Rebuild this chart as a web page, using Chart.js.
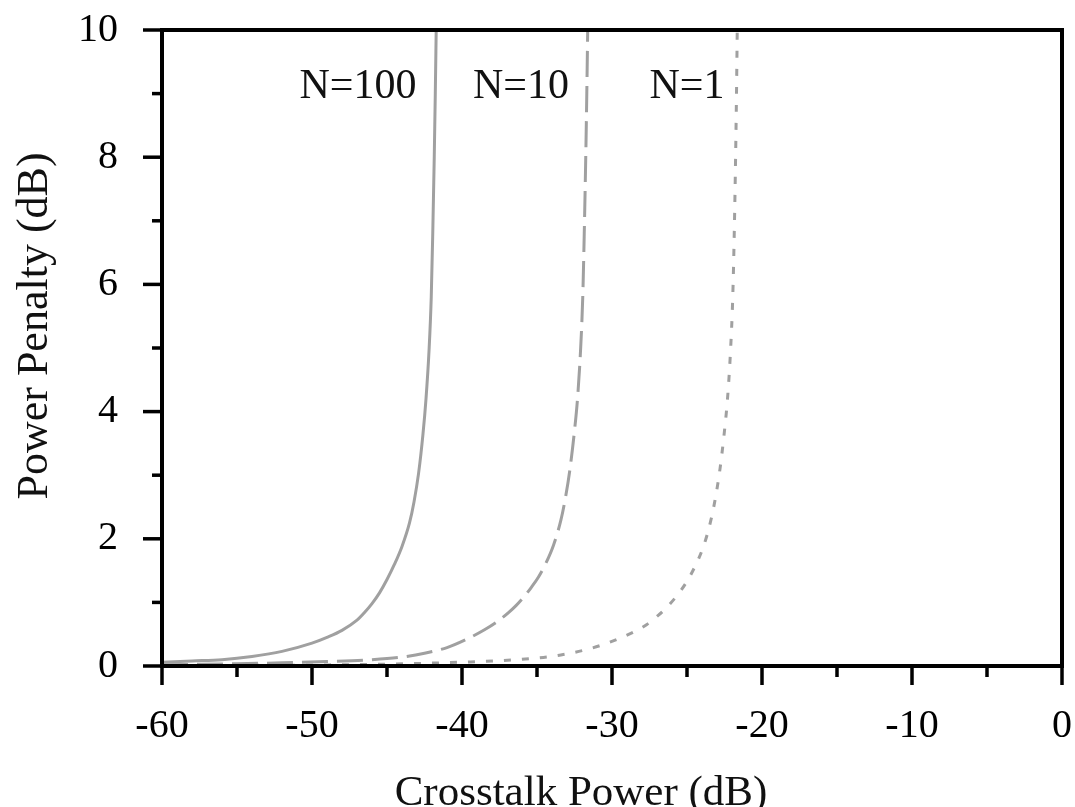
<!DOCTYPE html>
<html>
<head>
<meta charset="utf-8">
<script src="https://cdn.jsdelivr.net/npm/chart.js@4.4.1/dist/chart.umd.min.js"></script>
<style>
    html, body { margin: 0; padding: 0; background: #fff; }
    #wrap { width: 1075px; height: 807px; position: relative; }
</style>
</head>
<body>
<div id="wrap"><canvas id="penalty"></canvas></div>
<script>
const seriesNames = ['N=100', 'N=10', 'N=1'];

// crosstalk power (dB) -> power penalty (dB)
const n100X = [-60, -58, -56, -54, -52, -50, -49, -48, -47, -46.5, -46, -45.5, -45, -44.5, -44, -43.5, -43.2, -42.9, -42.6, -42.4, -42.2, -42.05, -41.95, -41.85, -41.78, -41.72];
const n100Y = [0.06, 0.08, 0.10, 0.15, 0.23, 0.36, 0.45, 0.56, 0.72, 0.84, 0.98, 1.15, 1.36, 1.60, 1.88, 2.25, 2.58, 3.02, 3.65, 4.2, 4.95, 5.8, 6.8, 8.0, 9.0, 10];

const n10X = [-60, -55, -52, -49, -46, -44, -42.5, -41, -39.7, -38.5, -37.7, -36.9, -36.4, -35.9, -35.4, -34.9, -34.4, -33.9, -33.4, -33.1, -32.8, -32.5, -32.3, -32.1, -31.95, -31.85, -31.75, -31.68, -31.62];
const n10Y = [0.02, 0.035, 0.05, 0.07, 0.10, 0.14, 0.2, 0.29, 0.42, 0.57, 0.69, 0.84, 0.95, 1.08, 1.23, 1.40, 1.62, 1.90, 2.30, 2.65, 3.1, 3.7, 4.2, 4.95, 5.8, 6.8, 8.0, 9.0, 10];

const n1X = [-60, -50, -45, -40, -36.4, -33.5, -30.8, -28.6, -27.7, -26.9, -26.4, -25.9, -25.4, -24.9, -24.4, -23.9, -23.4, -23.1, -22.8, -22.5, -22.3, -22.1, -21.95, -21.85, -21.76, -21.7, -21.65];
const n1Y = [0.005, 0.015, 0.03, 0.06, 0.10, 0.17, 0.32, 0.53, 0.65, 0.80, 0.91, 1.04, 1.19, 1.37, 1.60, 1.88, 2.30, 2.65, 3.1, 3.7, 4.2, 4.95, 5.8, 6.8, 8.0, 9.0, 10];

// where the curve names sit (data units)
const labelX = [-46.93, -36.07, -25.0];
const labelY = 8.93;

const serif = '"Liberation Serif", "Times New Roman", serif';
const lineGrey = '#a0a0a0';

const toPoints = (xs, ys) => xs.map((v, i) => ({ x: v, y: ys[i] }));

var frame = {
    id: 'frame',
    afterDatasetsDraw(chart) {
        const { ctx, chartArea: { left, right, top, bottom }, scales: { x, y } } = chart;

        ctx.save();
        ctx.strokeStyle = '#000';
        ctx.lineWidth = 4;
        ctx.strokeRect(left, top, right - left, bottom - top);

        // outward ticks, long on labelled values
        ctx.lineWidth = 3.5;
        x.ticks.forEach(t => {
            const px = x.getPixelForValue(t.value);
            const len = t.value % 10 === 0 ? 19 : 11;
            ctx.beginPath();
            ctx.moveTo(px, bottom);
            ctx.lineTo(px, bottom + len);
            ctx.stroke();
        });
        y.ticks.forEach(t => {
            const py = y.getPixelForValue(t.value);
            const len = t.value % 2 === 0 ? 19 : 10;
            ctx.beginPath();
            ctx.moveTo(left, py);
            ctx.lineTo(left - len, py);
            ctx.stroke();
        });

        ctx.fillStyle = '#111';
        ctx.textBaseline = 'alphabetic';
        ctx.textAlign = 'center';

        ctx.font = '42px ' + serif;
        seriesNames.forEach((name, i) => {
            ctx.fillText(name, x.getPixelForValue(labelX[i]), y.getPixelForValue(labelY));
        });

        // axis titles
        ctx.font = '43px ' + serif;
        ctx.fillText('Crosstalk Power (dB)', 581, 805);

        ctx.translate(47, 326);
        ctx.rotate(-Math.PI / 2);
        ctx.font = '44px ' + serif;
        ctx.fillText('Power Penalty (dB)', 0, 0);
        ctx.restore();
    }
};

var tickFont = { family: serif, size: 40 };

var config = {
    type: 'line',
    data: {
        datasets: [{
            label: seriesNames[0],
            data: toPoints(n100X, n100Y),
            borderColor: lineGrey,
            borderWidth: 3,
            pointRadius: 0,
            cubicInterpolationMode: 'monotone'
        }, {
            label: seriesNames[1],
            data: toPoints(n10X, n10Y),
            borderColor: lineGrey,
            borderWidth: 3,
            borderDash: [26, 9],
            pointRadius: 0,
            cubicInterpolationMode: 'monotone'
        }, {
            label: seriesNames[2],
            data: toPoints(n1X, n1Y),
            borderColor: lineGrey,
            borderWidth: 3,
            borderDash: [7, 11],
            pointRadius: 0,
            cubicInterpolationMode: 'monotone'
        }]
    },
    options: {
        responsive: true,
        maintainAspectRatio: false,
        animation: false,
        layout: {
            autoPadding: false,
            padding: { top: 30, right: 13, left: 0, bottom: 0 }
        },
        plugins: {
            legend: { display: false },
            tooltip: { enabled: false }
        },
        scales: {
            x: {
                type: 'linear',
                min: -60,
                max: 0,
                border: { display: false },
                grid: { display: false, drawTicks: false },
                afterFit: s => {
                    s.height = 141;
                    s.paddingLeft = 0;
                    s.paddingRight = 0;
                },
                ticks: {
                    stepSize: 5,
                    autoSkip: false,
                    maxRotation: 0,
                    padding: 36,
                    color: '#000',
                    font: tickFont,
                    callback: v => (v % 10 === 0 ? v : '')
                }
            },
            y: {
                min: 0,
                max: 10,
                border: { display: false },
                grid: { display: false, drawTicks: false },
                afterFit: s => {
                    s.width = 162;
                    s.paddingTop = 0;
                    s.paddingBottom = 0;
                },
                ticks: {
                    stepSize: 1,
                    autoSkip: false,
                    padding: 44,
                    color: '#000',
                    font: tickFont,
                    callback: v => (v % 2 === 0 ? v : '')
                }
            }
        }
    },
    plugins: [frame]
};

new Chart(document.getElementById('penalty'), config);
</script>
</body>
</html>
